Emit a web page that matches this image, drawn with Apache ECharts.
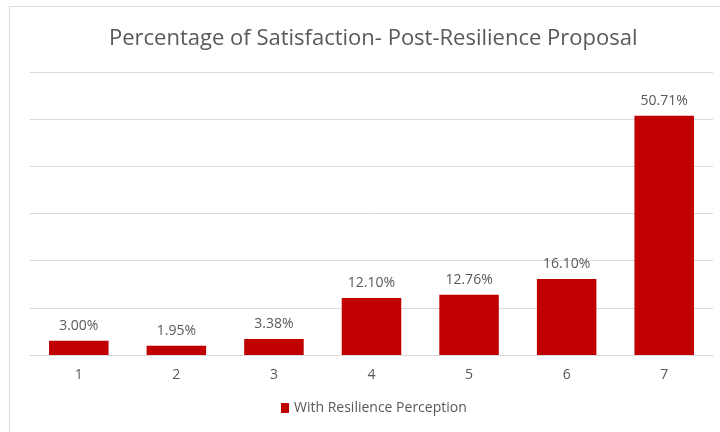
<!DOCTYPE html>
<html>
<head>
<meta charset="utf-8">
<script src="https://cdn.jsdelivr.net/npm/echarts@6/dist/echarts.min.js"></script>
<style>
  html, body { margin: 0; padding: 0; background: #fff; }
  #main { width: 720px; height: 432px; }
</style>
</head>
<body>
<div id="main"></div>
<script>
// data
var categories = ['1', '2', '3', '4', '5', '6', '7'];
var values = [3.00, 1.95, 3.38, 12.10, 12.76, 16.10, 50.71];
var seriesName = 'With Resilience Perception';
var titleText = 'Percentage of Satisfaction- Post-Resilience Proposal';

var chart = echarts.init(document.getElementById('main'), null, { renderer: 'canvas' });

var option = {
    backgroundColor: '#ffffff',
    animation: false,
    textStyle: { fontFamily: 'Open Sans' },
    title: {
        text: titleText,
        left: 104,
        top: 23,
        textStyle: { color: '#595959', fontSize: 22, fontWeight: 'normal', fontFamily: 'Open Sans' }
    },
    graphic: [{
        type: 'rect',
        shape: { x: 9.5, y: 6.5, width: 720, height: 440 },
        style: { fill: 'none', stroke: '#d9d9d9', lineWidth: 1 },
        silent: true
    }],
    legend: {
        data: [seriesName],
        bottom: 12,
        left: 276,
        itemWidth: 8,
        itemHeight: 10,
        itemGap: 6,
        icon: 'rect',
        textStyle: { color: '#595959', fontSize: 14 }
    },
    grid: { left: 30, right: 7, top: 72, bottom: 77 },
    xAxis: {
        type: 'category',
        data: categories,
        axisLine: { lineStyle: { color: '#d9d9d9' } },
        axisTick: { show: false },
        axisLabel: { color: '#595959', fontSize: 14, margin: 13 }
    },
    yAxis: {
        type: 'value',
        min: 0,
        max: 60,
        interval: 10,
        axisLabel: { show: false },
        axisLine: { show: false },
        axisTick: { show: false },
        splitLine: { lineStyle: { color: '#d9d9d9' } }
    },
    series: [{
        name: seriesName,
        type: 'bar',
        data: values,
        barWidth: '61%',
        itemStyle: { color: '#c00000' },
        label: {
            show: true,
            position: 'top',
            distance: 8,
            color: '#595959',
            fontSize: 14,
            formatter: function (p) { return p.value.toFixed(2) + '%'; }
        }
    }]
};

chart.setOption(option);
</script>
</body>
</html>
